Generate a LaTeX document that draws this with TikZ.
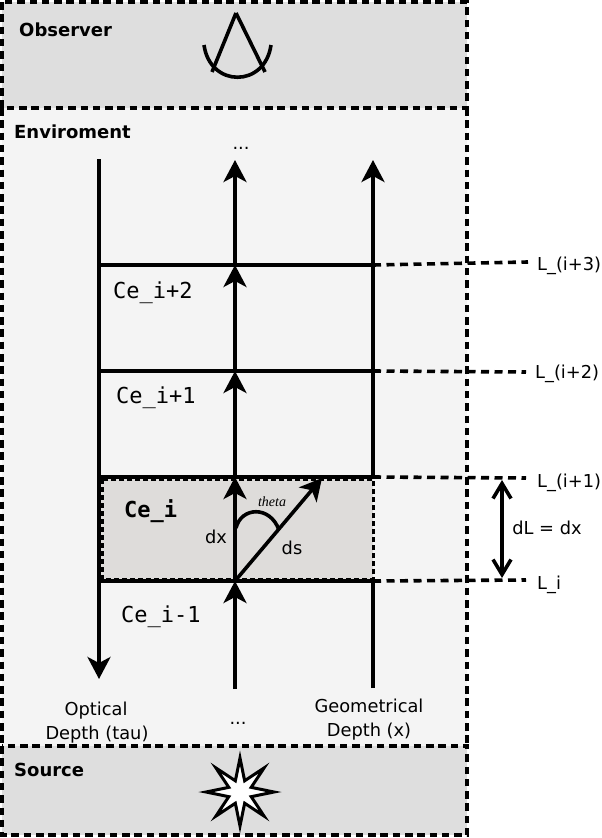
\documentclass[tikz,border=0pt]{standalone}
\usepackage{fontspec}
\setmainfont{DejaVu Sans}
\setmonofont{DejaVu Sans Mono}
\newfontfamily\thetafont{Liberation Serif}
\usetikzlibrary{arrows.meta,shapes.geometric}
\definecolor{layergray}{HTML}{DEDEDE}
\definecolor{envgray}{HTML}{F4F4F4}
\definecolor{cellgray}{HTML}{DEDCDA}
\tikzset{
  regionbox/.style={line width=3.8pt, dash pattern=on 7.5pt off 4.8pt},
  levelline/.style={line width=3.6pt},
  leveldash/.style={line width=3.6pt, dash pattern=on 8pt off 5.5pt},
  axisbase/.style={line width=3.6pt},
  axisline/.style={line width=3.6pt, -{Stealth[length=22pt,width=23pt,inset=6pt]}},
  gaparrow/.style={line width=3.6pt, {Straight Barb[length=15pt,width=18pt,line width=3.6pt]}-{Straight Barb[length=15pt,width=18pt,line width=3.6pt]}},
  plain/.style={inner sep=0pt, font=\fontsize{17.8}{20}\selectfont},
  heading/.style={inner sep=0pt, anchor=base west, font=\fontsize{18}{20}\selectfont\bfseries},
  cell/.style={inner sep=0pt, anchor=base west, font=\fontsize{22}{24}\selectfont\ttfamily},
}
\begin{document}
\begin{tikzpicture}[x=1pt, y=-1pt]
  \useasboundingbox (0,0) rectangle (602,838);
  \fill[layergray] (2,2) rectangle (467,108);
  \fill[envgray] (2,108) rectangle (467,746);
  \fill[layergray] (2,746) rectangle (467,835);
  \fill[cellgray] (100,477) rectangle (373,581);

  \coordinate (tauTop) at (99,159);
  \coordinate (tauEnd) at (99,679);
  \coordinate (rayStart) at (235,689);
  \coordinate (rayTop) at (235,160);
  \coordinate (depthStart) at (373,688);
  \coordinate (depthTop) at (373,160);

  \coordinate (leftA) at (99,581);
  \coordinate (leftB) at (99,477);
  \coordinate (leftC) at (99,371);
  \coordinate (leftD) at (99,265);
  \coordinate (midA) at (235,581);
  \coordinate (midB) at (235,477);
  \coordinate (midC) at (235,371);
  \coordinate (midD) at (235,265);
  \coordinate (rightA) at (373,581);
  \coordinate (rightB) at (373,477);
  \coordinate (rightC) at (373,371);
  \coordinate (rightD) at (373,265);
  \coordinate (endA) at (526,580);
  \coordinate (endB) at (526,478);
  \coordinate (endC) at (526,372);
  \coordinate (endD) at (528,262);

  \draw[line width=3pt, dash pattern=on 5pt off 3pt] (102,479) rectangle (373,579);

  \foreach \lvl in {A,B,C,D} {
    \draw[levelline] (left\lvl) -- (right\lvl);
    \draw[leveldash] (right\lvl) -- (end\lvl);
  }

  \draw[axisline] (tauTop) -- (tauEnd);
  \draw[axisline] (rayStart) -- (midA);
  \draw[axisline] (midA) -- (midB);
  \draw[axisline] (midB) -- (midC);
  \draw[axisline] (midC) -- (midD);
  \draw[axisline] (midD) -- (rayTop);
  \draw[axisbase] (depthStart) -- (rightA);
  \draw[axisline] (rightB) -- (depthTop);

  \coordinate (slantEnd) at (322,478);
  \draw[axisline] (midA) -- (slantEnd);
  \draw[line width=3.6pt] (236,528) .. controls (241,507) and (270,505) .. (279,530);

  \coordinate (gapTop) at (502,480);
  \coordinate (gapBot) at (502,578);
  \draw[gaparrow] (gapTop) -- (gapBot);

  \draw[regionbox] (2,2) rectangle (467,108);
  \draw[regionbox] (2,108) -- (2,746);
  \draw[regionbox] (467,108) -- (467,746);
  \draw[regionbox] (2,746) rectangle (467,835);

  \draw[line width=3.6pt] (236,13) -- (212,72);
  \draw[line width=3.6pt] (236,13) -- (265,72);
  \draw[line width=3.6pt] (204,45) .. controls (210,88) and (265,88) .. (271,45);
  \node[star, star points=8, star point ratio=2.8, draw, fill=white, line width=3pt,
    minimum size=68pt, inner sep=0pt, miter limit=20] (burst) at (240,792) {};

  \node[heading] (observer) at (19,36) {Observer};
  \node[heading] (enviroment) at (14,138) {Enviroment};
  \node[heading] (source) at (14,776) {Source};

  \node[plain, anchor=base] (dotsTop) at (241,149) {...};
  \node[plain, anchor=base] (dotsBot) at (238,724) {...};
  \node[plain, anchor=base] (tauA) at (96,715) {Optical};
  \node[plain, anchor=base] (tauB) at (97,739) {Depth (tau)};
  \node[plain, anchor=base] (geoA) at (369,712) {Geometrical};
  \node[plain, anchor=base] (geoB) at (369,736) {Depth (x)};

  \node[cell] (cellUp) at (113,298) {Ce\_i+2};
  \node[cell] (cellNext) at (116,403) {Ce\_i+1};
  \node[cell, font=\fontsize{22}{24}\selectfont\ttfamily\bfseries] (cellCur) at (124,517) {Ce\_i};
  \node[cell] (cellPrev) at (121,622) {Ce\_i-1};

  \node[plain, anchor=base] (dxLabel) at (216,543) {dx};
  \node[plain, anchor=base] (dsLabel) at (292,554) {ds};
  \node[inner sep=0pt, anchor=base, font=\fontsize{14}{15}\selectfont\thetafont\itshape] (thetaLabel) at (272,506) {theta};

  \node[plain, anchor=base west] (levelD) at (537,270) {L\_(i+3)};
  \node[plain, anchor=base west] (levelC) at (535,378) {L\_(i+2)};
  \node[plain, anchor=base west] (levelB) at (537,487) {L\_(i+1)};
  \node[plain, anchor=base west] (levelA) at (537,589) {L\_i};
  \node[plain, anchor=base] (gapLabel) at (547,534) {dL = dx};
\end{tikzpicture}
\end{document}
